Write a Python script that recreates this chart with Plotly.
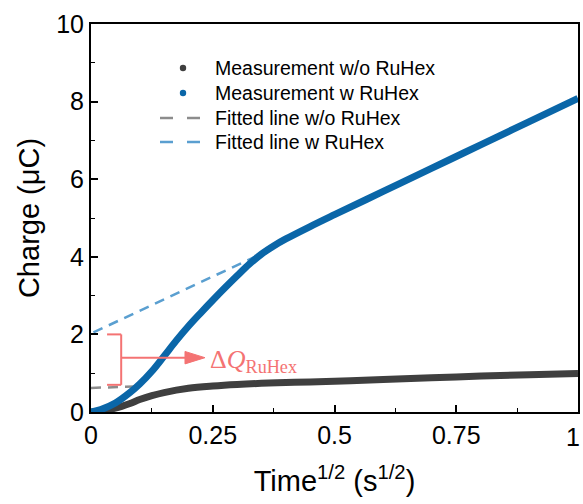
import plotly.graph_objects as go

# Measurement w RuHex (blue)
t_blue = [0.0, 0.02, 0.05, 0.08, 0.1, 0.125, 0.15, 0.175, 0.2, 0.225, 0.25, 0.275, 0.3, 0.325, 0.35, 0.375, 0.4, 0.45, 0.5, 0.6, 0.7, 0.75, 0.8, 0.9, 1.0]
q_blue = [0.0, 0.06, 0.23, 0.5, 0.72, 1.05, 1.44, 1.84, 2.21, 2.55, 2.88, 3.2, 3.51, 3.81, 4.07, 4.28, 4.46, 4.78, 5.085, 5.685, 6.285, 6.585, 6.885, 7.485, 8.08]
# Measurement w/o RuHex (black)
t_black = [0.0, 0.02, 0.05, 0.08, 0.1, 0.125, 0.15, 0.2, 0.25, 0.3, 0.4, 0.5, 0.6, 0.75, 0.9, 1.0]
q_black = [0.0, 0.03, 0.1, 0.22, 0.32, 0.42, 0.5, 0.61, 0.67, 0.71, 0.76, 0.79, 0.84, 0.905, 0.96, 0.99]
# Fitted lines
fit_blue_t = [0.005, 0.34]
fit_blue_q = [2.05, 4.02]
fit_black_t = [0.0, 0.1]
fit_black_q = [0.62, 0.66]

x_tickvals = [0, 0.25, 0.5, 0.75, 1]
x_ticktext = ["0", "0.25", "0.5", "0.75", "1"]
y_tickvals = [0, 2, 4, 6, 8, 10]

legend_names = ["Measurement w/o RuHex", "Measurement w RuHex", "Fitted line w/o RuHex", "Fitted line w RuHex"]

c_black = "#3f3f3f"
c_blue = "#0a66a8"
c_fit_black = "#8c8c8c"
c_fit_blue = "#5a9fd0"
c_red = "#f47373"
DASH = "10px,7px"

W, H = 583, 504
ML, MR, MT, MB = 91, 5, 24, 92
PW, PH = W - ML - MR, H - MT - MB


def px(xp):
    return (xp - ML) / PW


def py(yp):
    return (H - MB - yp) / PH


fig = go.Figure()
fig.add_trace(go.Scatter(x=fit_black_t, y=fit_black_q, mode="lines", name=legend_names[2],
                         line=dict(color=c_fit_black, width=2.5, dash=DASH), showlegend=False))
fig.add_trace(go.Scatter(x=fit_blue_t, y=fit_blue_q, mode="lines", name=legend_names[3],
                         line=dict(color=c_fit_blue, width=2.5, dash=DASH), showlegend=False))
fig.add_trace(go.Scatter(x=t_black, y=q_black, mode="lines", name=legend_names[0],
                         line=dict(color=c_black, width=7, shape="spline"), showlegend=False))
fig.add_trace(go.Scatter(x=t_blue, y=q_blue, mode="lines", name=legend_names[1],
                         line=dict(color=c_blue, width=7, shape="spline"), showlegend=False))

# manual legend
rows = [68, 93, 118, 142]
cols = [c_black, c_blue, c_fit_black, c_fit_blue]
for i, (name, yp, c) in enumerate(zip(legend_names, rows, cols)):
    fig.add_annotation(x=px(213), y=py(yp), xref="paper", yref="paper", xanchor="left", yanchor="middle",
                       showarrow=False, text=name, font=dict(size=19.5, color="black"))
    if i < 2:
        fig.add_shape(type="circle", xref="paper", yref="paper",
                      x0=px(183 - 3.2), x1=px(183 + 3.2), y0=py(yp + 3.2), y1=py(yp - 3.2),
                      fillcolor=c, line=dict(color=c, width=0))
    else:
        for (a, b) in [(160, 173), (187, 200)]:
            fig.add_shape(type="line", xref="paper", yref="paper", x0=px(a), x1=px(b), y0=py(yp), y1=py(yp),
                          line=dict(color=c, width=2.5))

# last x tick label placed so it stays inside the page (right-aligned at the edge)
fig.add_annotation(x=x_tickvals[-1], y=py(437), xref="x", yref="paper", xanchor="right", yanchor="middle",
                   xshift=4, showarrow=False, text=x_ticktext[-1], font=dict(size=25, color="black"))

# bracket + arrow annotation
bx = 0.062
for (x0, y0, x1, y1) in [(0.033, 2.0, bx, 2.0), (0.033, 0.7, bx, 0.7), (bx, 0.7, bx, 2.0), (bx, 1.4, 0.2, 1.4)]:
    fig.add_shape(type="line", x0=x0, y0=y0, x1=x1, y1=y1, xref="x", yref="y",
                  line=dict(color=c_red, width=2))
fig.add_shape(type="path", path="M 0.193 1.56 L 0.234 1.4 L 0.193 1.24 Z", xref="x", yref="y",
              fillcolor=c_red, line=dict(color=c_red, width=1))
fig.add_annotation(x=0.241, y=1.32, xref="x", yref="y", xanchor="left", yanchor="middle", showarrow=False,
                   text="Δ<i>Q</i><sub>RuHex</sub>",
                   font=dict(family="Liberation Serif", size=26, color=c_red))

fig.update_layout(
    width=W, height=H,
    margin=dict(l=ML, r=MR, t=MT, b=MB),
    plot_bgcolor="white", paper_bgcolor="white",
    font=dict(family="Liberation Sans", color="black"),
    showlegend=False,
    xaxis=dict(range=[0, 1], tickvals=x_tickvals, ticktext=x_ticktext[:-1] + [""],
               automargin=False,
               ticks="inside", ticklen=7, tickwidth=1.5, tickcolor="black",
               minor=dict(ticks="inside", ticklen=4, tickwidth=1.2, dtick=0.125, tickcolor="black"),
               showline=True, linecolor="black", linewidth=2, mirror=True, showgrid=False, zeroline=False,
               tickfont=dict(size=25), title=dict(text="Time<sup>1/2</sup> (s<sup>1/2</sup>)",
                                                  font=dict(size=29), standoff=23)),
    yaxis=dict(range=[0, 10], tickvals=y_tickvals, automargin=False,
               ticks="inside", ticklen=7, tickwidth=1.5, tickcolor="black",
               minor=dict(ticks="inside", ticklen=4, tickwidth=1.2, dtick=1, tickcolor="black"),
               showline=True, linecolor="black", linewidth=2, mirror=True, showgrid=False, zeroline=False,
               tickfont=dict(size=25), title=dict(text="Charge (μC)", font=dict(size=29), standoff=8)),
)
fig.write_html("out.html")
